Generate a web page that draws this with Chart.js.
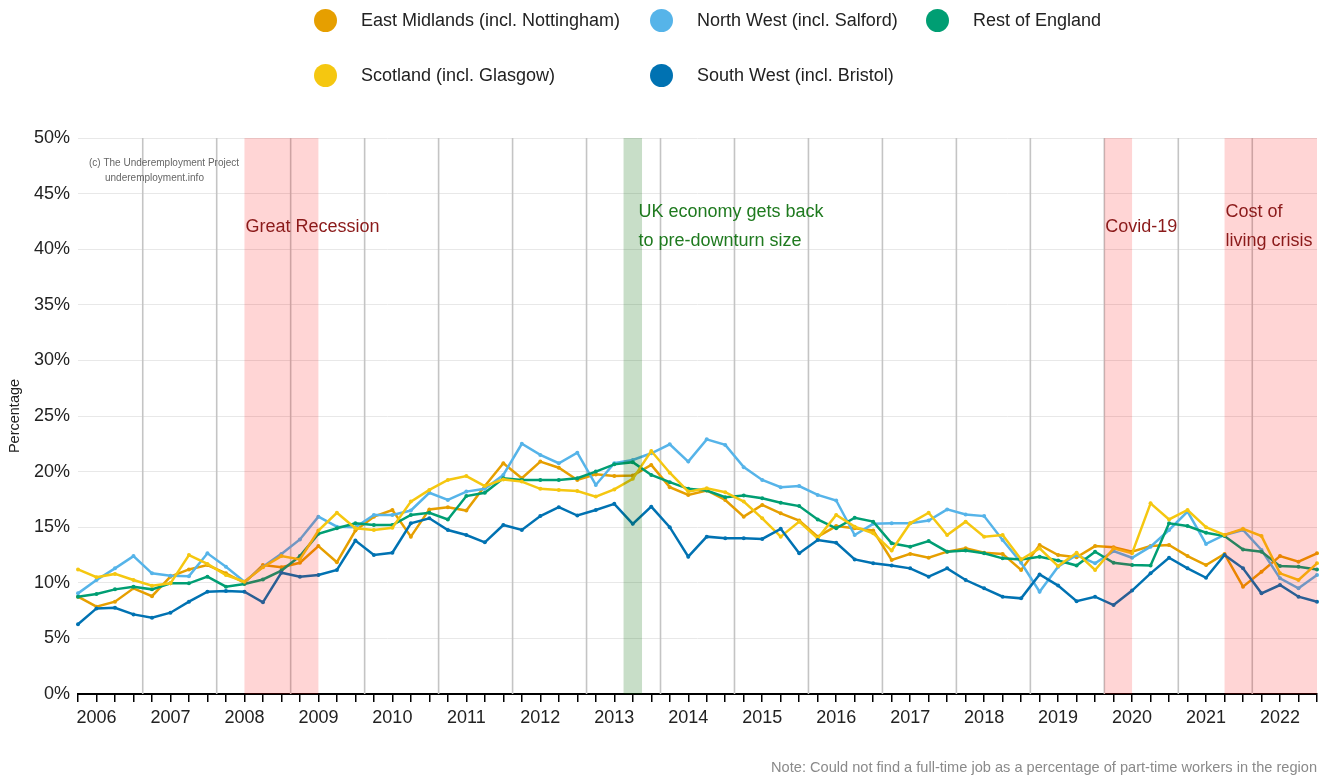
<!DOCTYPE html>
<html>
<head>
<meta charset="utf-8">
<title>Underemployment by region</title>
<script src="https://cdn.jsdelivr.net/npm/chart.js@4/dist/chart.umd.min.js"></script>
<style>
  body { margin: 0; background: #fff; font-family: "Liberation Sans", Arial, sans-serif; }
  #wrap { position: relative; width: 1325px; height: 779px; }
  #legend .item { position: absolute; display: flex; align-items: center; font-size: 18px; color: #222; white-space: nowrap; }
  #legend .dot { width: 23px; height: 23px; border-radius: 50%; margin-right: 24px; }
</style>
</head>
<body>
<div id="wrap">
  <canvas id="underChart" width="1325" height="779"></canvas>
  <div id="legend"></div>
</div>
<script>
// Годы и кварталы (2006 Q1 ... 2022 Q4)
const years = ['2006', '2007', '2008', '2009', '2010', '2011', '2012', '2013', '2014',
               '2015', '2016', '2017', '2018', '2019', '2020', '2021', '2022'];
const quarterNames = ['Q1', 'Q2', 'Q3', 'Q4'];
const categories = years.flatMap(y => quarterNames.map(q => y + ' ' + q));

// Серии (%), по кварталам
const eastMidlands = [8.75, 7.85, 8.3, 9.5, 8.8, 10.55, 11.2, 11.6, 10.85, 10.0,
  11.6, 11.4, 11.8, 13.3, 11.85, 14.7, 15.95, 16.55, 14.15, 16.6,
  16.8, 16.5, 18.7, 20.75, 19.4, 20.9, 20.35, 19.25, 19.75, 19.6,
  19.65, 20.6, 18.6, 17.9, 18.3, 17.45, 15.95, 17.0, 16.25, 15.6,
  14.15, 15.1, 14.9, 14.7, 12.05, 12.6, 12.25, 12.8, 13.1, 12.7,
  12.6, 11.15, 13.4, 12.5, 12.3, 13.3, 13.2, 12.8, 13.3, 13.4,
  12.4, 11.6, 12.6, 9.65, 11.0, 12.4, 11.9, 12.65];
const northWest = [9.05, 10.25, 11.3, 12.4, 10.85, 10.64, 10.6, 12.65, 11.45, 10.1,
  11.45, 12.6, 13.9, 15.95, 15.05, 15.0, 16.1, 16.1, 16.5, 18.1,
  17.45, 18.2, 18.45, 19.7, 22.5, 21.5, 20.75, 21.7, 18.8, 20.75,
  21.05, 21.65, 22.45, 20.9, 22.9, 22.4, 20.4, 19.25, 18.6, 18.7,
  17.9, 17.4, 14.3, 15.3, 15.35, 15.35, 15.6, 16.6, 16.15, 16.0,
  13.85, 11.8, 9.2, 11.45, 12.5, 11.75, 12.85, 12.25, 13.25, 14.75,
  16.4, 13.5, 14.3, 14.75, 12.95, 10.4, 9.5, 10.7];
const restOfEngland = [8.75, 8.99, 9.41, 9.65, 9.41, 9.95, 9.95, 10.55, 9.65, 9.9,
  10.3, 11.1, 12.4, 14.4, 14.9, 15.35, 15.2, 15.2, 16.1, 16.3,
  15.7, 17.8, 18.1, 19.4, 19.25, 19.25, 19.25, 19.4, 20.0, 20.65,
  20.85, 19.7, 19.05, 18.45, 18.3, 17.7, 17.85, 17.6, 17.2, 16.9,
  15.7, 14.9, 15.85, 15.5, 13.55, 13.25, 13.75, 12.8, 12.9, 12.65,
  12.2, 12.1, 12.35, 12.0, 11.55, 12.8, 11.8, 11.6, 11.55, 15.35,
  15.1, 14.5, 14.2, 13.0, 12.8, 11.5, 11.45, 11.2];
const scotland = [11.2, 10.5, 10.8, 10.25, 9.74, 9.95, 12.5, 11.7, 10.7, 10.1,
  11.4, 12.4, 12.1, 14.7, 16.3, 14.9, 14.75, 14.95, 17.3, 18.35,
  19.25, 19.6, 18.7, 19.3, 19.1, 18.45, 18.35, 18.25, 17.75, 18.4,
  19.35, 21.85, 19.9, 18.2, 18.5, 18.15, 17.3, 15.8, 14.15, 15.5,
  14.0, 16.1, 15.05, 14.45, 12.9, 15.35, 16.3, 14.3, 15.5, 14.15,
  14.3, 12.1, 13.1, 11.5, 12.7, 11.15, 13.1, 12.65, 17.15, 15.7,
  16.55, 15.0, 14.3, 14.85, 14.2, 10.85, 10.25, 11.75];
const southWest = [6.27, 7.7, 7.76, 7.16, 6.86, 7.31, 8.3, 9.2, 9.26, 9.2,
  8.24, 10.91, 10.55, 10.7, 11.15, 13.8, 12.5, 12.7, 15.35, 15.8,
  14.75, 14.3, 13.64, 15.2, 14.75, 16.0, 16.8, 16.05, 16.55, 17.1,
  15.3, 16.85, 15.0, 12.35, 14.15, 14.0, 14.0, 13.95, 14.85, 12.65,
  13.85, 13.6, 12.1, 11.75, 11.55, 11.3, 10.55, 11.3, 10.25, 9.5,
  8.75, 8.6, 10.75, 9.75, 8.35, 8.75, 8.0, 9.3, 10.85, 12.25,
  11.3, 10.45, 12.5, 11.3, 9.05, 9.8, 8.75, 8.3];

const seriesNames = ['East Midlands (incl. Nottingham)', 'North West (incl. Salford)', 'Rest of England',
                     'Scotland (incl. Glasgow)', 'South West (incl. Bristol)'];
const seriesValues = [eastMidlands, northWest, restOfEngland, scotland, southWest];
const seriesColors = ['#E69F00', '#56B4E9', '#009E73', '#F5C710', '#0072B2'];

// Периоды событий (в индексах кварталов)
const eventStart = [9, 29.5, 55.5, 62];
const eventEnd = [13, 30.5, 57, 67];
const eventLabels = [['Great Recession'], ['UK economy gets back', 'to pre-downturn size'], ['Covid-19'], ['Cost of', 'living crisis']];
const eventLabelAt = [9, 30.25, 55.5, 62];
const eventKind = ['crisis', 'recovery', 'crisis', 'crisis'];

// Вертикальные разделители между годами
const dividers = years.slice(1).map((y, k) => 4 * k + 3.5);

// Легенда (HTML)
const legendBox = document.getElementById('legend');
const legendCols = [314, 650, 926];
seriesNames.forEach((name, i) => {
    const row = i < 3 ? 0 : 1;
    const col = i < 3 ? i : i - 3;
    const item = document.createElement('div');
    item.className = 'item';
    item.style.left = legendCols[col] + 'px';
    item.style.top = (row === 0 ? 9 : 64) + 'px';
    item.innerHTML = `<span class="dot" style="background:${seriesColors[i]}"></span><span>${name}</span>`;
    legendBox.appendChild(item);
});

const eventsPlugin = {
    id: 'events',
    beforeDatasetsDraw(chart) {
        const { ctx, chartArea: { top, bottom }, scales: { x } } = chart;
        ctx.save();
        ctx.strokeStyle = '#c4c4c4';
        ctx.lineWidth = 1.6;
        dividers.forEach(v => {
            const px = x.getPixelForValue(v);
            ctx.beginPath();
            ctx.moveTo(px, top);
            ctx.lineTo(px, bottom);
            ctx.stroke();
        });
        ctx.restore();
    },
    afterDatasetsDraw(chart) {
        const { ctx, chartArea: { top, bottom, left, right }, scales: { x, y } } = chart;
        ctx.save();
        // полупрозрачные полосы поверх линий
        eventStart.forEach((s, i) => {
            const x0 = x.getPixelForValue(s);
            const x1 = x.getPixelForValue(eventEnd[i]);
            ctx.fillStyle = eventKind[i] === 'crisis' ? 'rgba(255, 0, 0, 0.165)' : 'rgba(0, 100, 0, 0.215)';
            ctx.fillRect(x0, top, x1 - x0, bottom - top);
        });
        // подписи событий
        ctx.font = '18px "Liberation Sans", Arial, sans-serif';
        ctx.textBaseline = 'middle';
        ctx.textAlign = 'left';
        eventLabels.forEach((lines, i) => {
            ctx.fillStyle = eventKind[i] === 'crisis' ? '#8B1A1A' : '#1F7A1F';
            const px = x.getPixelForValue(eventLabelAt[i]) + 1;
            if (lines.length === 1) {
                ctx.fillText(lines[0], px, y.getPixelForValue(42));
            } else {
                ctx.fillText(lines[0], px, y.getPixelForValue(43.3));
                ctx.fillText(lines[1], px, y.getPixelForValue(40.7));
            }
        });
        // копирайт
        ctx.fillStyle = '#666';
        ctx.font = '10px "Liberation Sans", Arial, sans-serif';
        ctx.fillText('(c) The Underemployment Project', left + 11, y.getPixelForValue(47.7));
        ctx.fillText('underemployment.info', left + 27, y.getPixelForValue(46.35));
        ctx.restore();
    },
    afterDraw(chart) {
        const { ctx, chartArea: { right } } = chart;
        ctx.save();
        ctx.fillStyle = '#8a8a8a';
        ctx.font = '14.6px "Liberation Sans", Arial, sans-serif';
        ctx.textAlign = 'right';
        ctx.textBaseline = 'middle';
        ctx.fillText('Note: Could not find a full-time job as a percentage of part-time workers in the region', right, 768);
        ctx.restore();
    }
};

const ctx = document.getElementById('underChart').getContext('2d');
const underChart = new Chart(ctx, {
    type: 'line',
    data: {
        labels: categories,
        datasets: seriesNames.map((name, i) => ({
            label: name,
            data: seriesValues[i],
            borderColor: seriesColors[i],
            backgroundColor: seriesColors[i],
            borderWidth: 2.5,
            pointRadius: 2,
            pointBorderWidth: 0,
            pointBackgroundColor: seriesColors[i],
            tension: 0,
            order: seriesNames.length - i
        }))
    },
    options: {
        responsive: false,
        animation: false,
        layout: { padding: { top: 138, right: 8, bottom: 35, left: 0 } },
        plugins: {
            legend: { display: false },
            tooltip: { enabled: false }
        },
        scales: {
            x: {
                type: 'category',
                offset: false,
                afterFit(scale) { scale.height = 50; },
                grid: { drawOnChartArea: false, drawTicks: true, tickLength: 8, color: '#000', lineWidth: 1.5 },
                border: { display: true, color: '#000', width: 2 },
                ticks: {
                    autoSkip: false,
                    maxRotation: 0,
                    padding: 5,
                    color: '#222',
                    font: { family: '"Liberation Sans", Arial, sans-serif', size: 18 },
                    callback: (value, index) => index % 4 === 1 ? years[Math.floor(index / 4)] : ''
                }
            },
            y: {
                min: 0,
                max: 50,
                afterFit(scale) { scale.width = 78; },
                grid: { color: '#e8e8e8', lineWidth: 1, drawTicks: false },
                border: { display: false },
                ticks: {
                    stepSize: 5,
                    padding: 8,
                    color: '#222',
                    font: { family: '"Liberation Sans", Arial, sans-serif', size: 18 },
                    callback: v => v + '%'
                },
                title: {
                    display: true,
                    text: 'Percentage',
                    color: '#222',
                    padding: { top: 6, bottom: 0 },
                    font: { family: '"Liberation Sans", Arial, sans-serif', size: 14.5 }
                }
            }
        }
    },
    plugins: [eventsPlugin]
});
</script>
</body>
</html>
